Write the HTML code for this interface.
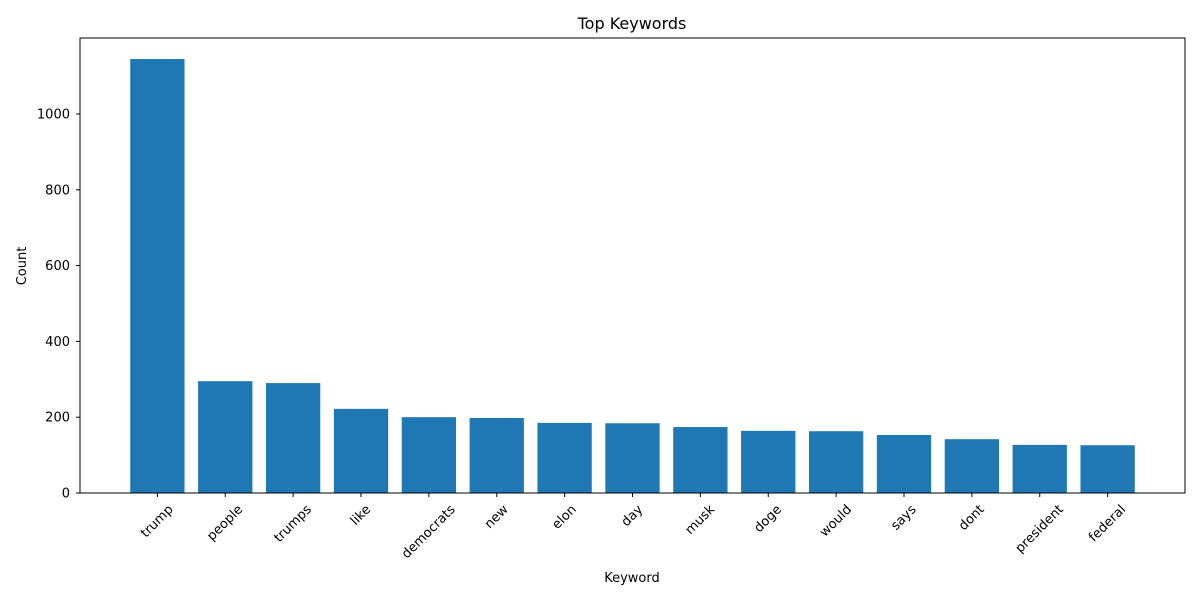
<!DOCTYPE html>
<html><head><meta charset="utf-8"><style>body{margin:0;background:#fff}svg{font-family:"DejaVu Sans","Liberation Sans",sans-serif}</style></head>
<body>
<svg id="c" width="1200" height="600" viewBox="0 0 1200 600">
<text x="632" y="29" font-size="16" text-anchor="middle">Top Keywords</text>
<text x="632" y="582" font-size="13" text-anchor="middle">Keyword</text>
<text x="0" y="0" font-size="13" text-anchor="middle" transform="translate(26,266) rotate(-90)">Count</text>
<g id="bars"></g><g id="yt"></g><g id="xt"></g>
<rect x="80" y="38" width="1105" height="455" fill="none" stroke="#000" stroke-width="1"/>
</svg>
<script>
const categories=["trump","people","trumps","like","democrats","new","elon","day","musk","doge","would","says","dont","president","federal"];
const counts=[1145,295,290,222,200,198,185,184,174,164,163,153,142,127,126];
const yTicks=[0,200,400,600,800,1000];
const NS="http://www.w3.org/2000/svg";
const L=80,R=1185,T=38,B=493;
const xmin=-1.14,xmax=categories.length-1+1.14;
const x=i=>L+(i-xmin)/(xmax-xmin)*(R-L);
const y=v=>B-v*0.379;
const bw=0.8*(R-L)/(xmax-xmin);
function mk(t,a,p){const e=document.createElementNS(NS,t);for(const k in a)e.setAttribute(k,a[k]);p.appendChild(e);return e;}
const bars=document.getElementById('bars'),yt=document.getElementById('yt'),xt=document.getElementById('xt');
counts.forEach((v,i)=>{
 const r=mk('rect',{x:x(i)-bw/2,y:y(v),width:bw,height:B-y(v),fill:'#1f77b4'},bars);
 
 
 const tk=mk('line',{x1:x(i),x2:x(i),y1:B,y2:B+4,stroke:'#000'},xt);
 
 
 const t=mk('text',{'font-size':13,'text-anchor':'middle','dominant-baseline':'central'},xt);
 t.textContent=categories[i];
 
 
 const w=t.getComputedTextLength();
 const h=(w+13)*0.7071;
 const cy=B+10+h/2;
 t.setAttribute('x',x(i));t.setAttribute('y',cy);
 t.setAttribute('transform','rotate(-45 '+x(i)+' '+cy+')');
});
yTicks.forEach(v=>{
 const tk=mk('line',{x1:L-4,x2:L,y1:y(v),y2:y(v),stroke:'#000'},yt);
 
 
 const t=mk('text',{x:L-10,y:y(v)+4.5,'font-size':13,'text-anchor':'end'},yt);
 t.textContent=v;
 
 
});
</script>
</body></html>
